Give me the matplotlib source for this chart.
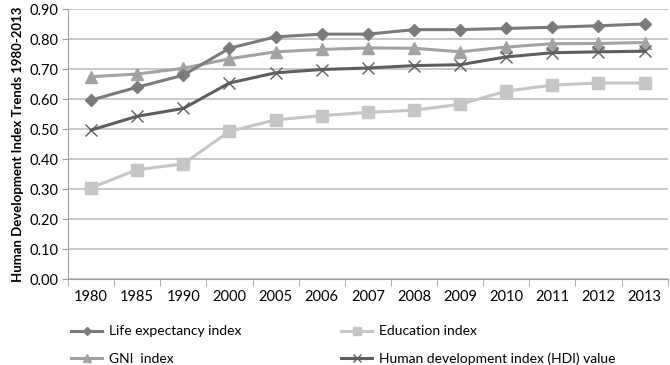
import numpy as np
import matplotlib
matplotlib.use('Agg')
import matplotlib.pyplot as plt

plt.rcParams['font.family'] = ['Lato', 'DejaVu Sans']

years = ['1980', '1985', '1990', '2000', '2005', '2006', '2007',
         '2008', '2009', '2010', '2011', '2012', '2013']
life_expectancy = [0.597, 0.640, 0.680, 0.770, 0.808, 0.817, 0.817,
                   0.832, 0.832, 0.836, 0.840, 0.845, 0.851]
education = [0.304, 0.365, 0.384, 0.493, 0.531, 0.545, 0.556,
             0.563, 0.583, 0.627, 0.647, 0.654, 0.654]
gni = [0.675, 0.684, 0.703, 0.735, 0.758, 0.766, 0.771,
       0.770, 0.758, 0.774, 0.785, 0.786, 0.789]
hdi = [0.497, 0.543, 0.569, 0.654, 0.688, 0.699, 0.704,
       0.712, 0.715, 0.741, 0.755, 0.758, 0.760]

fig = plt.figure(figsize=(6.7, 3.65), dpi=100)
ax = fig.add_axes([0.1015, 0.2356, 0.895, 0.739])

x = np.arange(len(years))
ax.plot(x, life_expectancy, color='#7b7b7b', lw=2.2, marker='D', ms=6,
        label='Life expectancy index', zorder=4)
ax.plot(x, education, color='#c6c6c6', lw=2.2, marker='s', ms=8,
        label='Education index', zorder=3)
ax.plot(x, gni, color='#a2a2a2', lw=2.2, marker='^', ms=8,
        label='GNI  index', zorder=3)
ax.plot(x, hdi, color='#5e5e5e', lw=2.2, marker='x', ms=8, mew=1.0,
        label='Human development index (HDI) value', zorder=4)

ax.set_xlim(-0.5, len(years) - 0.5)
ax.set_ylim(0, 0.9)
ax.set_yticks(np.arange(0, 0.91, 0.1))
ax.set_yticklabels([f'{v:.2f}' for v in np.arange(0, 0.91, 0.1)], fontsize=10.5)
ax.set_xticks(x)
ax.set_xticklabels(years, fontsize=10.5)
ax.tick_params(axis='x', length=0, pad=8)
ax.set_xticks(np.arange(-0.5, len(years), 1), minor=True)
ax.tick_params(axis='x', which='minor', length=5, color='#a0a0a0')
ax.tick_params(axis='y', length=4, color='#a0a0a0', pad=3)

ax.grid(axis='y', color='#bfbfbf', lw=1.2)
ax.set_axisbelow(True)
for s in ['top', 'right']:
    ax.spines[s].set_visible(False)
for s in ['left', 'bottom']:
    ax.spines[s].set_color('#a0a0a0')

ax.set_ylabel('Human Development Index Trends 1980-2013', fontsize=9.5,
              fontweight='bold', labelpad=4)

# legend: column 1 = life, GNI; column 2 = education, HDI
handles, labels = ax.get_legend_handles_labels()
order = [0, 2, 1, 3]
leg = fig.legend([handles[i] for i in order], [labels[i] for i in order],
                 loc='lower left', bbox_to_anchor=(0.088, -0.035), ncol=2,
                 frameon=False, fontsize=10, columnspacing=7.2,
                 handlelength=2.2, handletextpad=0.5, labelspacing=1.1,
                 markerscale=0.65)

fig.savefig('out.png', dpi=100)
